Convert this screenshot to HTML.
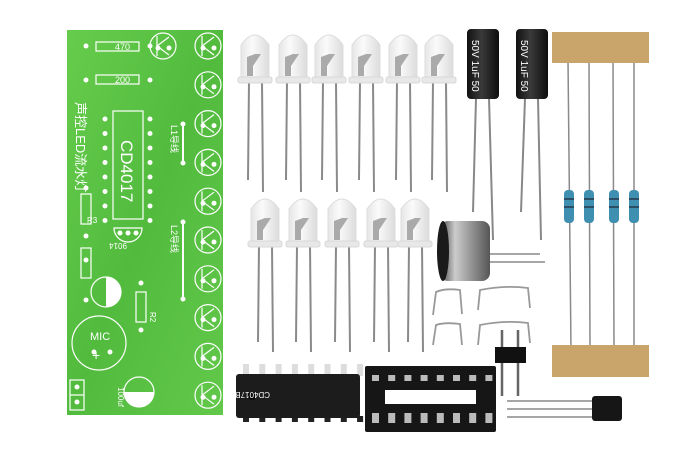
<!DOCTYPE html>
<html><head><meta charset="utf-8"><style>
html,body{margin:0;padding:0;background:#fff;width:700px;height:458px;overflow:hidden}
svg{display:block}
text{font-family:"Liberation Sans","Noto Sans CJK SC",sans-serif;fill:#fff}
</style></head><body>
<svg id="s" width="700" height="458" viewBox="0 0 700 458" xmlns="http://www.w3.org/2000/svg">
<defs>
<linearGradient id="pcb" x1="0" y1="0" x2="1" y2="1"><stop offset="0" stop-color="#66cc4c"/><stop offset="0.5" stop-color="#52bb3e"/><stop offset="1" stop-color="#62c84a"/></linearGradient>
<linearGradient id="led" x1="0" x2="1"><stop offset="0" stop-color="#e6e6e6"/><stop offset="0.4" stop-color="#fafafa"/><stop offset="1" stop-color="#dcdcdc"/></linearGradient>
<linearGradient id="cap" x1="0" x2="1"><stop offset="0" stop-color="#111"/><stop offset="0.45" stop-color="#3a3a3a"/><stop offset="1" stop-color="#0d0d0d"/></linearGradient>
<linearGradient id="mic" x1="0" x2="1"><stop offset="0" stop-color="#444"/><stop offset="0.3" stop-color="#ccc"/><stop offset="0.6" stop-color="#999"/><stop offset="1" stop-color="#555"/></linearGradient>
</defs>
<rect x="67" y="30" width="156" height="385" fill="url(#pcb)"/>
<g id="pcbart" stroke="#fff" fill="none" stroke-width="1.2"></g>
<g fill="#fff">
<text x="115" y="50" font-size="9">470</text>
<text x="115" y="83" font-size="9">200</text>
<text x="121" y="140" font-size="17" transform="rotate(90 121 140)">CD4017</text>
<text x="76" y="102" font-size="13" transform="rotate(90 76 102)">声控LED流水灯</text>
<text x="171" y="125" font-size="9" transform="rotate(90 171 125)">L1导线</text>
<text x="171" y="225" font-size="9" transform="rotate(90 171 225)">L2导线</text>
<text x="90" y="340" font-size="11">MIC</text>
<text x="92" y="360" font-size="14">+</text>
<text x="87" y="223" font-size="8">R3</text>
<text x="150" y="312" font-size="8" transform="rotate(90 150 312)">R2</text>
<text x="127" y="243" font-size="8" transform="rotate(180 127 243)">9014</text>
<text x="118" y="387" font-size="8" transform="rotate(90 118 387)">100uf</text>
</g>
<g id="leds"></g>
<g stroke="#888" stroke-width="2">
<line x1="476" y1="98" x2="473" y2="212"/><line x1="489" y1="98" x2="493" y2="240"/>
<line x1="525" y1="98" x2="521" y2="212"/><line x1="538" y1="98" x2="541" y2="240"/>
</g>
<rect x="467" y="29" width="32" height="70" rx="4" fill="url(#cap)"/>
<rect x="516" y="29" width="32" height="70" rx="4" fill="url(#cap)"/>
<text x="472" y="40" font-size="10" fill="#ddd" transform="rotate(90 472 40)">50V 1uF 50</text>
<text x="521" y="40" font-size="10" fill="#ddd" transform="rotate(90 521 40)">50V 1uF 50</text>
<line x1="470" y1="254" x2="540" y2="254" stroke="#888" stroke-width="1.5"/>
<line x1="470" y1="262" x2="545" y2="262" stroke="#888" stroke-width="1.5"/>
<rect x="440" y="221" width="50" height="60" rx="8" fill="url(#mic)"/>
<ellipse cx="443" cy="251" rx="6" ry="30" fill="#1a1a1a"/>
<g stroke="#8a8a8a" stroke-width="1.5">
<line x1="568" y1="60" x2="571" y2="350"/><line x1="589" y1="60" x2="590" y2="350"/>
<line x1="613" y1="60" x2="614" y2="350"/><line x1="634" y1="60" x2="634" y2="350"/>
</g>
<g fill="#3f8fb0">
<rect x="564" y="190" width="10" height="33" rx="4"/><rect x="584" y="190" width="10" height="33" rx="4"/>
<rect x="609" y="190" width="10" height="33" rx="4"/><rect x="629" y="190" width="10" height="33" rx="4"/>
</g>
<g fill="#223" opacity="0.6">
<rect x="564" y="198" width="10" height="2"/><rect x="584" y="198" width="10" height="2"/><rect x="609" y="198" width="10" height="2"/><rect x="629" y="198" width="10" height="2"/>
<rect x="564" y="206" width="10" height="2"/><rect x="584" y="206" width="10" height="2"/><rect x="609" y="206" width="10" height="2"/><rect x="629" y="206" width="10" height="2"/>
</g>
<rect x="552" y="32" width="97" height="31" fill="#c9a56b"/>
<rect x="552" y="345" width="97" height="32" fill="#c9a56b"/>
<g stroke="#999" stroke-width="1.8" fill="none">
<path d="M433 315 L436 292 Q445 288 460 290 L462 314"/>
<path d="M433 345 L436 325 Q445 322 460 324 L462 345"/>
<path d="M478 310 L480 290 Q505 285 528 288 L530 308"/>
<path d="M478 345 L480 325 Q505 320 528 323 L530 343"/>
</g>
<g stroke="#666" stroke-width="2.5"><line x1="502" y1="330" x2="502" y2="396"/><line x1="518" y1="330" x2="518" y2="396"/></g>
<rect x="495" y="347" width="31" height="16" fill="#111"/>
<g id="icpins" fill="#ddd"></g>
<rect x="236" y="374" width="124" height="44" rx="3" fill="#1c1c1c"/>
<circle cx="252" cy="396" r="4" fill="#0a0a0a"/>
<text x="330" y="392" font-size="8" fill="#666" transform="rotate(180 300 392)">CD4017BE</text>
<rect x="365" y="366" width="131" height="66" rx="2" fill="#161616"/>
<rect x="385" y="390" width="91" height="14" fill="#fff"/>
<g id="sock" fill="#bbb"></g>
<g stroke="#888" stroke-width="1.5"><line x1="507" y1="401" x2="595" y2="401"/><line x1="507" y1="409" x2="595" y2="409"/><line x1="507" y1="417" x2="595" y2="417"/></g>
<rect x="592" y="396" width="30" height="25" rx="3" fill="#161616"/>
</svg>
<script>
var NS="http://www.w3.org/2000/svg";
function el(p,t,a){var e=document.createElementNS(NS,t);for(var k in a)e.setAttribute(k,a[k]);p.appendChild(e);return e;}
var art=document.getElementById('pcbart'),svg=document.getElementById('s');
function dot(x,y){el(svg,'circle',{cx:x,cy:y,r:2.5,fill:'#fff'});}
var rows=[];for(var i=0;i<10;i++)rows.push(46+i*38.8);
function fp(x,y){el(art,'circle',{cx:x,cy:y,r:13});el(art,'path',{d:'M'+(x-6)+' '+(y-10)+' L'+(x-6)+' '+(y+10)+' M'+(x-6)+' '+y+' L'+(x+6)+' '+(y-9)+' M'+(x-6)+' '+y+' L'+(x+6)+' '+(y+9)});dot(x-5,y+2);dot(x+6,y+2);}
rows.forEach(function(y){fp(208,y);});fp(163,46);
el(art,'rect',{x:96,y:42,width:43,height:9});el(art,'rect',{x:96,y:75,width:43,height:9});
dot(86,46);dot(150,46);dot(86,80);dot(150,80);
el(art,'rect',{x:113,y:111,width:30,height:108});
for(var i=0;i<8;i++){dot(105,119+i*14.5);dot(150,119+i*14.5);}
el(art,'line',{x1:183,y1:125,x2:183,y2:162,'stroke-width':2});dot(183,124);dot(183,163);
el(art,'line',{x1:183,y1:223,x2:183,y2:298,'stroke-width':2});dot(183,222);dot(183,299);
el(art,'rect',{x:81,y:194,width:10,height:30});dot(86,188);dot(86,236);
el(art,'rect',{x:81,y:248,width:10,height:30});dot(86,260);dot(86,300);
el(art,'path',{d:'M114 228 A14 14 0 1 0 142 228 Z'});dot(120,233);dot(128,233);dot(136,233);
el(art,'circle',{cx:106,cy:292,r:15});el(svg,'path',{d:'M106 277 A15 15 0 0 1 106 307 Z',fill:'#fff'});
el(art,'rect',{x:136,y:292,width:10,height:30});dot(141,283);dot(141,330);
el(art,'circle',{cx:99,cy:343,r:27});dot(94,352);dot(110,352);
el(art,'circle',{cx:139,cy:392,r:15});el(svg,'path',{d:'M124 392 A15 15 0 0 0 154 392 Z',fill:'#fff'});
el(art,'rect',{x:70,y:380,width:14,height:30});el(art,'line',{x1:70,y1:395,x2:84,y2:395});dot(77,387);dot(77,402);
var g=document.getElementById('leds');
function led(cx,top,l1,l2){
 el(g,'line',{x1:cx-6,y1:top+50,x2:cx-7,y2:l1,stroke:'#8a8a8a','stroke-width':2});
 el(g,'line',{x1:cx+7,y1:top+50,x2:cx+8,y2:l2,stroke:'#8a8a8a','stroke-width':2});
 el(g,'path',{d:'M'+(cx-14)+' '+(top+48)+' L'+(cx-14)+' '+(top+14)+' Q'+cx+' '+(top-6)+' '+(cx+14)+' '+(top+14)+' L'+(cx+14)+' '+(top+48)+' Z',fill:'url(#led)',stroke:'#ddd'});
 el(g,'rect',{x:cx-17,y:top+46,width:34,height:6,rx:2,fill:'#e8e8e8',stroke:'#d8d8d8'});
 el(g,'path',{d:'M'+(cx-8)+' '+(top+26)+' l8 -3 l6 0 l-8 12 l0 10 l-6 0 z',fill:'#aaa'});
}
[255,293,329,366,403,439].forEach(function(x){led(x,31,180,192);});
[265,303,342,381,415].forEach(function(x){led(x,195,342,352);});
var ip=document.getElementById('icpins');
for(var i=0;i<8;i++){var x=243+i*16.3;el(ip,'rect',{x:x,y:364,width:6,height:12});el(ip,'rect',{x:x,y:416,width:6,height:6,fill:'#222'});}
var sk=document.getElementById('sock');
for(var i=0;i<8;i++){var x=372+i*16.2;el(sk,'rect',{x:x,y:375,width:7,height:6});el(sk,'rect',{x:x,y:413,width:7,height:10});}
</script>
</body></html>
